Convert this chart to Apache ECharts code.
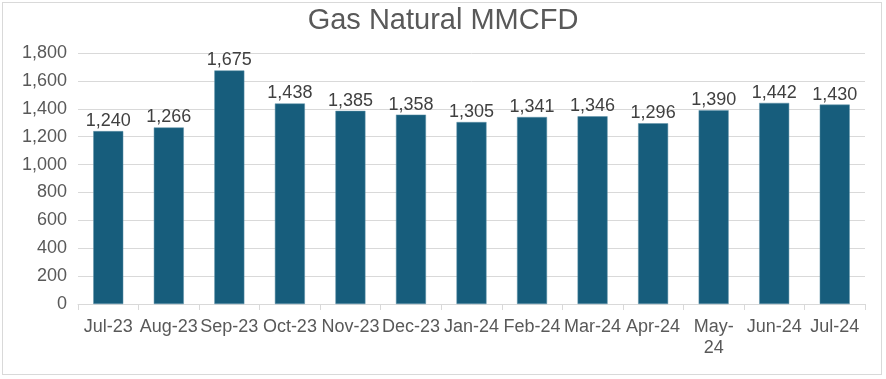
<!DOCTYPE html>
<html>
<head>
<meta charset="utf-8">
<script src="https://cdn.jsdelivr.net/npm/echarts@6/dist/echarts.min.js"></script>
<style>
html,body{margin:0;padding:0;background:#fff;}
#wrap{position:absolute;left:2px;top:2px;width:880px;height:373px;border:1px solid #d9d9d9;box-sizing:border-box;}
#chart{position:absolute;left:0;top:0;width:886px;height:379px;}
</style>
</head>
<body>
<div id="wrap"></div>
<div id="chart"></div>
<script>
const categories = ["Jul-23","Aug-23","Sep-23","Oct-23","Nov-23","Dec-23","Jan-24","Feb-24","Mar-24","Apr-24","May-24","Jun-24","Jul-24"];
const values = [1240,1266,1675,1438,1385,1358,1305,1341,1346,1296,1390,1442,1430];
const chartTitle = "Gas Natural MMCFD";

const chart = echarts.init(document.getElementById('chart'), null, {renderer:'canvas'});
const fmt = v => Number(v).toLocaleString('en-US');
chart.setOption({
  animation:false,
  title:{text:chartTitle,left:'center',top:1,textStyle:{fontFamily:'Liberation Sans, Arial',fontSize:29,fontWeight:'normal',color:'#595959'}},
  grid:{left:78,right:21,top:53,bottom:75},
  xAxis:{type:'category',data:categories,
    axisLine:{lineStyle:{color:'#d9d9d9',width:1}},
    axisTick:{show:true,alignWithLabel:false,length:6,lineStyle:{color:'#d9d9d9'}},
    axisLabel:{interval:0,margin:13,fontFamily:'Liberation Sans, Arial',fontSize:18,color:'#595959',lineHeight:21,
      formatter:v=> v==='May-24' ? 'May-\n24' : v}},
  yAxis:{type:'value',min:0,max:1800,interval:200,
    axisLine:{show:false},axisTick:{show:false},
    splitLine:{lineStyle:{color:'#d9d9d9',width:1}},
    axisLabel:{margin:11,fontFamily:'Liberation Sans, Arial',fontSize:18,color:'#595959',formatter:fmt}},
  series:[{type:'bar',data:values,barWidth:30,
    itemStyle:{color:'#175d7c',borderColor:'#5f93a8',borderWidth:0.5},
    label:{show:true,position:'top',distance:1,fontFamily:'Liberation Sans, Arial',fontSize:18,color:'#404040',formatter:p=>fmt(p.value)}}]
});
</script>
</body>
</html>
